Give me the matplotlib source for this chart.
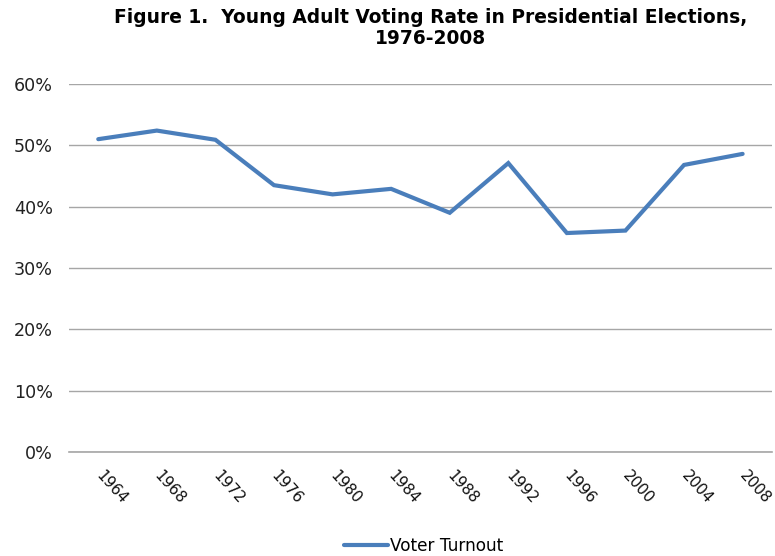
import matplotlib
matplotlib.use("Agg")
import matplotlib.pyplot as plt
from matplotlib.ticker import PercentFormatter, MultipleLocator

years = ["1964", "1968", "1972", "1976", "1980", "1984", "1988",
         "1992", "1996", "2000", "2004", "2008"]
turnout = [51.0, 52.4, 50.9, 43.5, 42.0, 42.9, 39.0,
           47.1, 35.7, 36.1, 46.8, 48.6]

plt.rcParams["font.family"] = ["DejaVu Sans"]

fig = plt.figure(figsize=(7.75, 5.56), dpi=100)
ax = fig.add_axes([0.089, 0.187, 0.907, 0.662])

x = list(range(len(years)))
line, = ax.plot(x, turnout, color="#4a7ebb", linewidth=3.0,
                solid_joinstyle="miter", solid_capstyle="round",
                label="Voter Turnout")

ax.set_xlim(-0.5, len(years) - 0.5)
ax.set_ylim(0, 60)
ax.yaxis.set_major_locator(MultipleLocator(10))
ax.yaxis.set_major_formatter(PercentFormatter(decimals=0))
ax.set_xticks(x)
ax.set_xticklabels(years, rotation=-48, ha="left", va="center",
                   rotation_mode="anchor")

ax.grid(axis="y", color="#a6a6a6", linewidth=1.0)
ax.set_axisbelow(True)
for side in ("top", "right", "left"):
    ax.spines[side].set_visible(False)
ax.spines["bottom"].set_color("#a6a6a6")
ax.spines["bottom"].set_linewidth(1.2)

ax.tick_params(axis="y", length=0, pad=11.5, labelsize=12.6, colors="#222222")
ax.tick_params(axis="x", length=0, pad=15, labelsize=11, colors="#111111")

fig.suptitle("Figure 1.  Young Adult Voting Rate in Presidential Elections,\n1976-2008",
             x=0.555, y=0.985, fontsize=13.4, fontweight="bold", linespacing=1.1)

fig.legend(handles=[line], loc="lower center", bbox_to_anchor=(0.547, -0.025),
           frameon=False, fontsize=12.2, handlelength=2.6, handletextpad=0.1)

fig.savefig("out.png", dpi=100)
